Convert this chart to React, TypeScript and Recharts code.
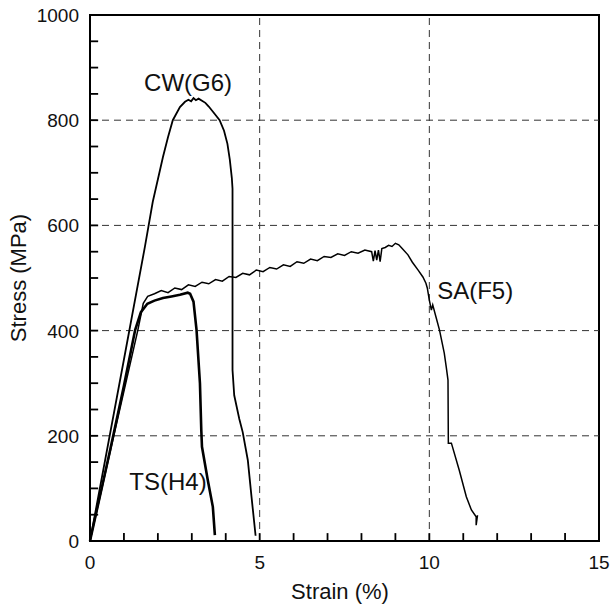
import { Line, LineChart, ReferenceArea, ReferenceDot, ReferenceLine, XAxis, YAxis } from "recharts";

// CW(G6) curve
const cwStrain = [0, 1.0, 1.62, 1.85, 2.15, 2.3, 2.44, 2.65, 2.8, 2.9, 2.98, 3.05, 3.12, 3.2, 3.3, 3.4, 3.5, 3.6, 3.7, 3.82, 3.95, 4.05, 4.12, 4.18, 4.2, 4.2, 4.25, 4.4, 4.5, 4.65, 4.76, 4.88];
const cwStress = [0, 345, 560, 645, 730, 768, 800, 825, 835, 839, 836, 842, 838, 841, 837, 833, 826, 818, 810, 800, 780, 755, 725, 690, 670, 325, 277, 232, 207, 154, 84, 10];

// TS(H4) curve
const tsStrain = [0, 0.6, 1.0, 1.33, 1.5, 1.69, 1.9, 2.15, 2.4, 2.65, 2.88, 2.95, 3.05, 3.14, 3.24, 3.28, 3.3, 3.47, 3.62, 3.68];
const tsStress = [0, 175, 295, 401, 435, 451, 457, 462, 465, 468, 472, 470, 455, 401, 300, 210, 179, 116, 65, 11];

// SA(F5) curve
const saStrain = [0, 0.7, 1.41, 1.57, 1.7, 1.9, 2.1, 2.3, 2.5, 2.7, 2.9, 3.1, 3.3, 3.5, 3.7, 3.9, 4.1, 4.3, 4.5, 4.7, 4.9, 5.1, 5.3, 5.5, 5.7, 5.9, 6.1, 6.3, 6.5, 6.7, 6.9, 7.1, 7.3, 7.5, 7.7, 7.9, 8.1, 8.3, 8.35, 8.4, 8.45, 8.5, 8.55, 8.6, 8.7, 8.8, 8.9, 9.0, 9.1, 9.2, 9.37, 9.5, 9.67, 9.81, 9.9, 9.94, 10.0, 10.06, 10.1, 10.2, 10.3, 10.44, 10.5, 10.55, 10.56, 10.65, 10.88, 11.09, 11.24, 11.38, 11.38, 11.42];
const saStress = [0, 200, 401, 452, 465, 470, 476, 472, 481, 478, 487, 484, 492, 489, 497, 494, 503, 501, 509, 506, 515, 512, 520, 517, 525, 522, 531, 528, 536, 533, 541, 539, 546, 543, 550, 547, 553, 550, 532, 552, 534, 553, 531, 556, 558, 562, 560, 566, 563, 556, 544, 530, 515, 502, 490, 481, 458, 439, 449, 425, 401, 357, 330, 306, 186, 186, 135, 84, 59, 46, 30, 49];

const xTicks = [0, 1, 2, 3, 4, 5, 6, 7, 8, 9, 10, 11, 12, 13, 14, 15];
const xMajor = [0, 5, 10, 15];
const yTicks = [0, 50, 100, 150, 200, 250, 300, 350, 400, 450, 500, 550, 600, 650, 700, 750, 800, 850, 900, 950, 1000];
const yMajor = [0, 200, 400, 600, 800, 1000];
const xGrid = [5, 10];
const yGrid = [200, 400, 600, 800];

const toRows = (xs: number[], ys: number[]) => xs.map((strain, i) => ({ strain, stress: ys[i] }));
const cwData = toRows(cwStrain, cwStress);
const tsData = toRows(tsStrain, tsStress);
const saData = toRows(saStrain, saStress);

const FONT = "'Liberation Sans', Arial, sans-serif";
// inward tick length in axis units (~8px each way)
const X_TICK_LEN = 0.24;
const Y_TICK_LEN = 15;

const XTick = (props: any) => {
  const { x, y, payload } = props;
  const v = payload.value;
  if (!xMajor.includes(v)) return <g />;
  return (
    <text x={x} y={Number(y) + 28} textAnchor="middle" fontSize={19} fontFamily={FONT} fill="#111">
      {v}
    </text>
  );
};

const YTick = (props: any) => {
  const { x, y, payload } = props;
  const v = payload.value;
  if (!yMajor.includes(v)) return <g />;
  return (
    <text x={Number(x) - 11} y={Number(y) + 7} textAnchor="end" fontSize={19} fontFamily={FONT} fill="#111">
      {v}
    </text>
  );
};

const curveLabel = (text: string) => ({
  value: text,
  position: "center" as const,
  fontSize: 24,
  fontFamily: FONT,
  fill: "#111",
});

export default function App() {
  return (
    <div style={{ position: "absolute", left: 0, top: 0, background: "#fff" }}>
      <LineChart width={614} height={606} margin={{ top: 15, right: 15, bottom: 0, left: 0 }}>
        <XAxis
          type="number"
          dataKey="strain"
          domain={[0, 15]}
          ticks={xTicks}
          interval={0}
          tick={<XTick />}
          tickSize={0}
          tickMargin={0}
          axisLine={false}
          tickLine={false}
          height={65}
          label={{
            content: () => (
              <text x={340} y={599} textAnchor="middle" fontSize={22} fontFamily={FONT} fill="#111">
                Strain (%)
              </text>
            ),
          }}
        />
        <YAxis
          type="number"
          domain={[0, 1000]}
          ticks={yTicks}
          interval={0}
          tick={<YTick />}
          tickSize={0}
          tickMargin={0}
          axisLine={false}
          tickLine={false}
          width={90}
          label={{
            content: () => (
              <text
                x={18}
                y={278}
                transform="rotate(-90 18 278)"
                textAnchor="middle"
                dominantBaseline="central"
                fontSize={22}
                fontFamily={FONT}
                fill="#111"
              >
                Stress (MPa)
              </text>
            ),
          }}
        />
        {xGrid.map((v) => (
          <ReferenceLine key={`x${v}`} x={v} stroke="#333" strokeDasharray="7 5" strokeWidth={1} />
        ))}
        {yGrid.map((v) => (
          <ReferenceLine key={`y${v}`} y={v} stroke="#333" strokeDasharray="7 5" strokeWidth={1} />
        ))}
        {xTicks.map((v) => (
          <ReferenceLine
            key={`xt${v}`}
            segment={[{ x: v, y: 0 }, { x: v, y: Y_TICK_LEN }]}
            stroke="#000"
            strokeWidth={1.8}
            ifOverflow="visible"
          />
        ))}
        {yTicks.map((v) => (
          <ReferenceLine
            key={`yt${v}`}
            segment={[{ x: 0, y: v }, { x: X_TICK_LEN, y: v }]}
            stroke="#000"
            strokeWidth={1.8}
            ifOverflow="visible"
          />
        ))}
        <Line data={cwData} dataKey="stress" type="linear" dot={false} stroke="#000" strokeWidth={1.8} isAnimationActive={false} />
        <Line data={tsData} dataKey="stress" type="linear" dot={false} stroke="#000" strokeWidth={2.6} isAnimationActive={false} />
        <Line data={saData} dataKey="stress" type="linear" dot={false} stroke="#000" strokeWidth={1.5} isAnimationActive={false} />
        <ReferenceArea x1={0} x2={15} y1={0} y2={1000} fill="none" stroke="#000" strokeWidth={2} />
        <ReferenceDot x={2.89} y={872} r={0} fill="none" stroke="none" label={curveLabel("CW(G6)")} />
        <ReferenceDot x={2.3} y={114} r={0} fill="none" stroke="none" label={curveLabel("TS(H4)")} />
        <ReferenceDot x={11.35} y={477} r={0} fill="none" stroke="none" label={curveLabel("SA(F5)")} />
      </LineChart>
    </div>
  );
}
